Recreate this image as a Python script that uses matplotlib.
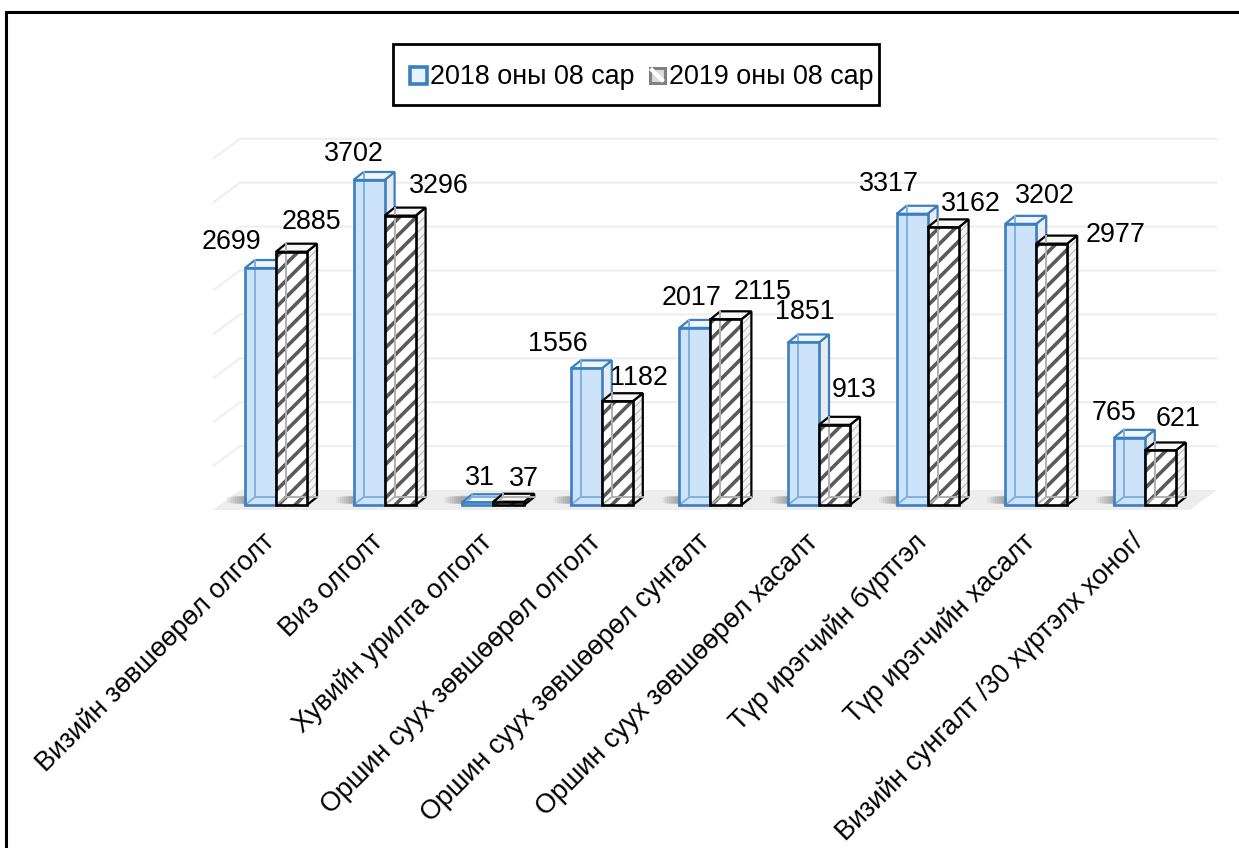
import matplotlib
matplotlib.use('Agg')
import matplotlib.pyplot as plt
from matplotlib.patches import Polygon, Rectangle

plt.rcParams['font.family'] = ['Liberation Sans', 'DejaVu Sans']

categories = ['Визийн зөвшөөрөл олголт', 'Виз олголт', 'Хувийн урилга олголт',
              'Оршин суух зөвшөөрөл олголт', 'Оршин суух зөвшөөрөл сунгалт',
              'Оршин суух зөвшөөрөл хасалт', 'Түр ирэгчийн бүртгэл',
              'Түр ирэгчийн хасалт', 'Визийн сунгалт /30 хүртэлх хоног/']
values_2018 = [2699, 3702, 31, 1556, 2017, 1851, 3317, 3202, 765]
values_2019 = [2885, 3296, 37, 1182, 2115, 913, 3162, 2977, 621]
series_names = ['2018 оны 08 сар', '2019 оны 08 сар']
grid_values = [500, 1000, 1500, 2000, 2500, 3000, 3500, 4000]

# hand placed data labels, pixels from the top centre of each bar
offsets_2018 = [(-29, 26), (-15, 26), (2, 24), (-28, 24), (-3, 30), (1, 30), (-23, 30), (24, 28), (-15, 25)]
offsets_2019 = [(20, 30), (39, 30), (15, 23), (22, 23), (37, 27), (20, 35), (28, 23), (64, 9), (18, 31)]

W, H = 1239, 848
fig = plt.figure(figsize=(W / 100, H / 100), dpi=100)

# page frame
bg = fig.add_axes([0, 0, 1, 1])
bg.set_xlim(0, W)
bg.set_ylim(H, 0)
bg.axis('off')
bg.plot([6, 6, W], [H, 12, 12], color='black', lw=2.2, solid_joinstyle='miter')

# plot area, calibrated so 1 category = 108.6 px and 1000 units = 87.8 px
left, right, bottom, top = 213, 1217, 510, 130
ax = fig.add_axes([left / W, 1 - bottom / H, (right - left) / W, (bottom - top) / H])
ax.set_xlim((left - 276) / 108.6, (right - 276) / 108.6)
ax.set_ylim(-5 / 0.0878, (505 - top) / 0.0878)
ax.axis('off')

bar_w = 31 / 108.6
dx, dy = 10 / 108.6, 8 / 0.0878          # bar depth
wall_dx, wall_dy = 27 / 108.6, 20 / 0.0878  # wall depth
wall_base = -5 / 0.0878
x_a, x_b = ax.get_xlim()

# floor
ax.add_patch(Polygon([(x_a, wall_base), (x_b - wall_dx, wall_base), (x_b, wall_base + wall_dy),
                      (x_a + wall_dx, wall_base + wall_dy)], fc='#ededed', ec='none', zorder=1))

# wall gridlines
for g in grid_values:
    y_back = wall_base + wall_dy + g
    ax.plot([x_a, x_a + wall_dx, x_b], [y_back - wall_dy, y_back, y_back],
            color='#efefef', lw=1.6, zorder=1, solid_joinstyle='round')

# soft shadows on the floor, only to the left of each bar
for i in range(len(categories)):
    for k in range(9):
        ax.add_patch(Rectangle((i - bar_w - 0.02 - k * 0.018, 5 + k * 2), 0.2 + k * 0.018, 105 - k * 4,
                               fc='#606060', ec='none', alpha=0.07, zorder=1.5))


def draw_bar(x, v, width, face, side, edge, hatch=None, z=3):
    side_pts = [(x + width, 0), (x + width + dx, dy), (x + width + dx, v + dy), (x + width, v)]
    top_pts = [(x, v), (x + dx, v + dy), (x + width + dx, v + dy), (x + width, v)]

    # side and top are see through, the front sits over them
    if hatch:
        plt.rcParams['hatch.linewidth'] = 0.7
        ax.add_patch(Polygon(side_pts, fc='#f4f4f4', ec='#b5b5b5', hatch='////', lw=0, zorder=z))
    else:
        ax.add_patch(Polygon(side_pts, fc=side, ec='none', zorder=z))
    ax.add_patch(Polygon(side_pts, fc='none', ec=edge, lw=1.6, zorder=z + 0.1))
    ax.add_patch(Polygon(top_pts, fc='#f7f7f7' if hatch else '#eef5fb', ec=edge, lw=1.6, zorder=z + 0.1))

    if hatch:
        plt.rcParams['hatch.linewidth'] = 2.6
        ax.bar(x, v, width, align='edge', color=face, edgecolor='#5a5a5a', hatch=hatch, lw=0, zorder=z + 0.3)
    else:
        ax.bar(x, v, width, align='edge', color=face, edgecolor='none', zorder=z + 0.3)

    # back edges showing through the front face
    back = '#b0b0b0' if hatch else '#7fb0de'
    ax.plot([x + dx, x + dx, x + width + dx], [v + dy, dy, dy], color=back, lw=1.4, zorder=z + 0.35)
    ax.plot([x, x + dx], [0, dy], color=back, lw=1.4, zorder=z + 0.35)

    ax.add_patch(Rectangle((x, 0), width, v, fc='none', ec=edge, lw=1.9, zorder=z + 0.4))


for i, (v18, v19) in enumerate(zip(values_2018, values_2019)):
    draw_bar(i - bar_w, v18, bar_w, '#cde3f9', '#e9ecef', '#3c7fc0', z=3)
    draw_bar(i, v19, bar_w, 'white', '#eeeeee', 'black', hatch='//', z=4)

    ax.annotate(str(v18), (i - bar_w / 2, v18), xytext=offsets_2018[i], textcoords='offset pixels',
                ha='center', va='center', fontsize=19.4, color='black', zorder=10)
    ax.annotate(str(v19), (i + bar_w / 2, v19), xytext=offsets_2019[i], textcoords='offset pixels',
                ha='center', va='center', fontsize=19.4, color='black', zorder=10)

    ax.annotate(categories[i], (i, 0), xytext=(-5, -33), textcoords='offset pixels', rotation=45,
                rotation_mode='anchor', ha='right', va='center', fontsize=19.4, annotation_clip=False)

# legend box
bg.add_patch(Rectangle((393, 44), 486, 61, fc='white', ec='black', lw=2.0, zorder=5))
bg.add_patch(Rectangle((410, 67), 17, 17, fc='#e6f3fd', ec='#3c7fc0', lw=2.6, zorder=6))
bg.add_patch(Rectangle((650, 68), 15, 15, fc='#dcdcdc', ec='#808080', lw=2.2, zorder=6))
bg.plot([652, 662], [70, 80], color='white', lw=3, zorder=7)
bg.text(430, 77, series_names[0], fontsize=19.35, va='center', ha='left', zorder=6)
bg.text(669, 77, series_names[1], fontsize=19.35, va='center', ha='left', zorder=6)

fig.savefig('out.png', dpi=100)
